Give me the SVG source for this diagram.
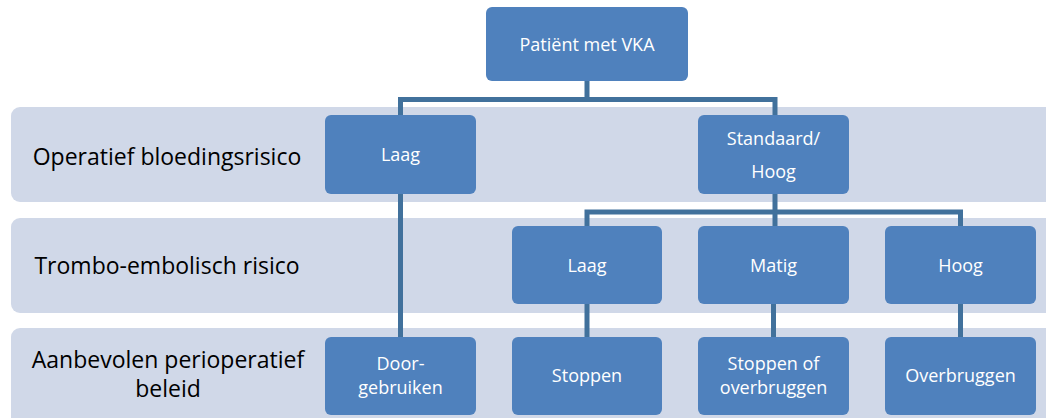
<svg xmlns="http://www.w3.org/2000/svg" width="1046" height="418" viewBox="0 0 1046 418">
  <style>
    .band { fill: #D0D8E8; }
    .node rect { fill: #4F81BD; }
    .node text { fill: #FFFFFF; font-family: "Open Sans", "Liberation Sans", sans-serif; font-size: 18px; text-anchor: middle; }
    .label { fill: #000000; font-family: "Open Sans", "Liberation Sans", sans-serif; font-size: 23px; text-anchor: middle; }
    .conn { stroke: #41719C; stroke-width: 5; fill: none; stroke-linejoin: miter; }
  </style>

  <!-- background bands -->
  <g id="bands">
    <rect class="band" x="11" y="107" width="1045" height="95" rx="9"/>
    <rect class="band" x="11" y="218" width="1045" height="95" rx="9"/>
    <rect class="band" x="11" y="328" width="1045" height="100" rx="9"/>
    <text class="label" x="167" y="165">Operatief bloedingsrisico</text>
    <text class="label" x="167" y="274">Trombo-embolisch risico</text>
    <text class="label" x="168" y="368">Aanbevolen perioperatief</text>
    <text class="label" x="168" y="397">beleid</text>
  </g>

  <!-- connectors -->
  <g id="connectors">
    <path class="conn" d="M587 81 V99.5 M400.5 117 V99.5 H775 V117"/>
    <path class="conn" d="M400.5 194 V339"/>
    <path class="conn" d="M775 194 V228 M587 228 V212 H960.5 V228"/>
    <path class="conn" d="M587 304 V339 M773.5 304 V339 M960.5 304 V339"/>
  </g>

  <g id="n-patient" class="node">
    <rect x="486" y="7" width="202" height="74" rx="6"/>
    <text x="587" y="51">Patiënt met VKA</text>
  </g>
  <g id="n-bleed-low" class="node">
    <rect x="325" y="115" width="151" height="79" rx="6"/>
    <text x="400.5" y="161">Laag</text>
  </g>
  <g id="n-bleed-high" class="node">
    <rect x="698" y="115" width="151" height="79" rx="6"/>
    <text x="773.5" y="145">Standaard/</text>
    <text x="773.5" y="178">Hoog</text>
  </g>
  <g id="n-te-low" class="node">
    <rect x="512" y="226" width="150" height="78" rx="6"/>
    <text x="587" y="272">Laag</text>
  </g>
  <g id="n-te-mid" class="node">
    <rect x="698" y="226" width="151" height="78" rx="6"/>
    <text x="773.5" y="272">Matig</text>
  </g>
  <g id="n-te-high" class="node">
    <rect x="885" y="226" width="151" height="78" rx="6"/>
    <text x="960.5" y="272">Hoog</text>
  </g>
  <g id="n-continue" class="node">
    <rect x="325" y="337" width="151" height="78" rx="6"/>
    <text x="400.5" y="370">Door-</text>
    <text x="400.5" y="394">gebruiken</text>
  </g>
  <g id="n-stop" class="node">
    <rect x="512" y="337" width="150" height="78" rx="6"/>
    <text x="587" y="382">Stoppen</text>
  </g>
  <g id="n-stop-or-bridge" class="node">
    <rect x="698" y="337" width="151" height="78" rx="6"/>
    <text x="773.5" y="370">Stoppen of</text>
    <text x="773.5" y="394">overbruggen</text>
  </g>
  <g id="n-bridge" class="node">
    <rect x="885" y="337" width="151" height="78" rx="6"/>
    <text x="960.5" y="382">Overbruggen</text>
  </g>
</svg>
